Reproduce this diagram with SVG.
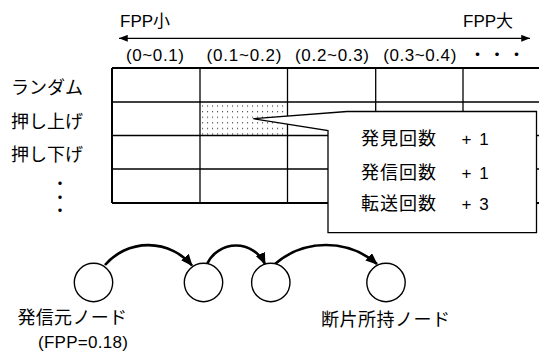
<svg xmlns="http://www.w3.org/2000/svg" width="539" height="361" viewBox="0 0 539 361">
<style>
.lat{font-family:"Liberation Sans","Noto Sans CJK JP",sans-serif;font-size:17px;fill:#000}
.jp{font-family:"Noto Sans CJK JP","Liberation Sans",sans-serif;font-size:18px;fill:#000}
.ln{stroke:#000;stroke-width:1.3;fill:none}
.thk{stroke:#000;stroke-width:2;fill:none}
.node{fill:#fff;stroke:#000;stroke-width:1.4}
.arc{fill:none;stroke:#000;stroke-width:2.6}
</style>
<defs>
<marker id="ah" viewBox="0 0 10 8" refX="10" refY="4" markerWidth="10" markerHeight="7" markerUnits="userSpaceOnUse" orient="auto-start-reverse"><path d="M0,0 L10,4 L0,8 z" fill="#000"/></marker>
<marker id="ah2" viewBox="0 0 12 10" refX="11" refY="5" markerWidth="12" markerHeight="10" markerUnits="userSpaceOnUse" orient="auto"><path d="M0,0 L12,5 L0,10 z" fill="#000"/></marker>
<pattern id="dots" x="200" y="103.5" width="5" height="5.6" patternUnits="userSpaceOnUse"><rect x="2" y="2" width="1.1" height="1.1" fill="#333"/></pattern>
</defs>
<rect width="539" height="361" fill="#fff"/>

<g id="scale">
<text class="lat" x="120" y="26.5">FPP小</text>
<text class="lat" x="463" y="26.5">FPP大</text>
<line class="ln" x1="119" y1="38.3" x2="530" y2="38.3" marker-start="url(#ah)" marker-end="url(#ah)"/>
<text class="lat" x="126" y="60.5" textLength="58" lengthAdjust="spacing">(0~0.1)</text>
<text class="lat" x="206.5" y="60.5" textLength="75" lengthAdjust="spacing">(0.1~0.2)</text>
<text class="lat" x="295" y="60.5" textLength="74" lengthAdjust="spacing">(0.2~0.3)</text>
<text class="lat" x="383.3" y="60.5" textLength="73" lengthAdjust="spacing">(0.3~0.4)</text>
<text class="jp" x="469" y="60.5" style="font-size:17px" letter-spacing="2.5">・・・</text>
</g>

<g id="rowlabels">
<text class="jp" x="11" y="94">ランダム</text>
<text class="jp" x="11" y="127.5">押し上げ</text>
<text class="jp" x="11" y="161">押し下げ</text>
<text class="jp" x="60" y="175.3" style="font-size:16px;writing-mode:vertical-rl" letter-spacing="-2.7">・・・</text>
</g>

<g id="table">
<rect x="200" y="102" width="87.5" height="33.5" fill="url(#dots)"/>
<line class="thk" x1="112" y1="68" x2="539" y2="68"/>
<line class="ln" x1="112" y1="102" x2="539" y2="102"/>
<line class="ln" x1="112" y1="135.5" x2="539" y2="135.5"/>
<line class="ln" x1="112" y1="169" x2="539" y2="169"/>
<line class="thk" x1="112" y1="203" x2="539" y2="203"/>
<line class="thk" x1="112" y1="68" x2="112" y2="203"/>
<line class="ln" x1="200" y1="68" x2="200" y2="203"/>
<line class="ln" x1="287.5" y1="68" x2="287.5" y2="203"/>
<line class="ln" x1="375.7" y1="68" x2="375.7" y2="203"/>
<line class="ln" x1="463" y1="68" x2="463" y2="203"/>
</g>

<g id="callout">
<polygon points="253.3,118.7 347,111.5 536.5,111.5 536.5,232.7 328,232.7 328,130.5" fill="#fff" stroke="#000" stroke-width="1.3"/>
<text class="jp" x="361" y="145.4" letter-spacing="1">発見回数</text>
<text class="lat" x="461.5" y="145.4" word-spacing="3">+ 1</text>
<text class="jp" x="361" y="178.7" letter-spacing="1">発信回数</text>
<text class="lat" x="461.5" y="178.7" word-spacing="3">+ 1</text>
<text class="jp" x="361" y="210.4" letter-spacing="1">転送回数</text>
<text class="lat" x="461.5" y="210.4" word-spacing="3">+ 3</text>
</g>

<g id="connectors">
<path class="arc" d="M105,265 A57,57 0 0 1 192,265.5" marker-end="url(#ah2)"/>
<path class="arc" d="M207,264 A32,32 0 0 1 265,264" marker-end="url(#ah2)"/>
<path class="arc" d="M275,264 A78,78 0 0 1 377,264" marker-end="url(#ah2)"/>
</g>

<g id="node-source">
<circle class="node" cx="93.5" cy="282.5" r="19.2"/>
<text class="jp" x="17.5" y="324" letter-spacing="0.3">発信元ノード</text>
<text class="lat" x="38" y="348" textLength="90" lengthAdjust="spacing">(FPP=0.18)</text>
</g>
<g id="node-relay1">
<circle class="node" cx="203.5" cy="282.5" r="19.2"/>
</g>
<g id="node-relay2">
<circle class="node" cx="270.8" cy="282.5" r="19.2"/>
</g>
<g id="node-holder">
<circle class="node" cx="386" cy="282.5" r="19.2"/>
<text class="jp" x="321" y="325.5" letter-spacing="0.5">断片所持ノード</text>
</g>
</svg>
